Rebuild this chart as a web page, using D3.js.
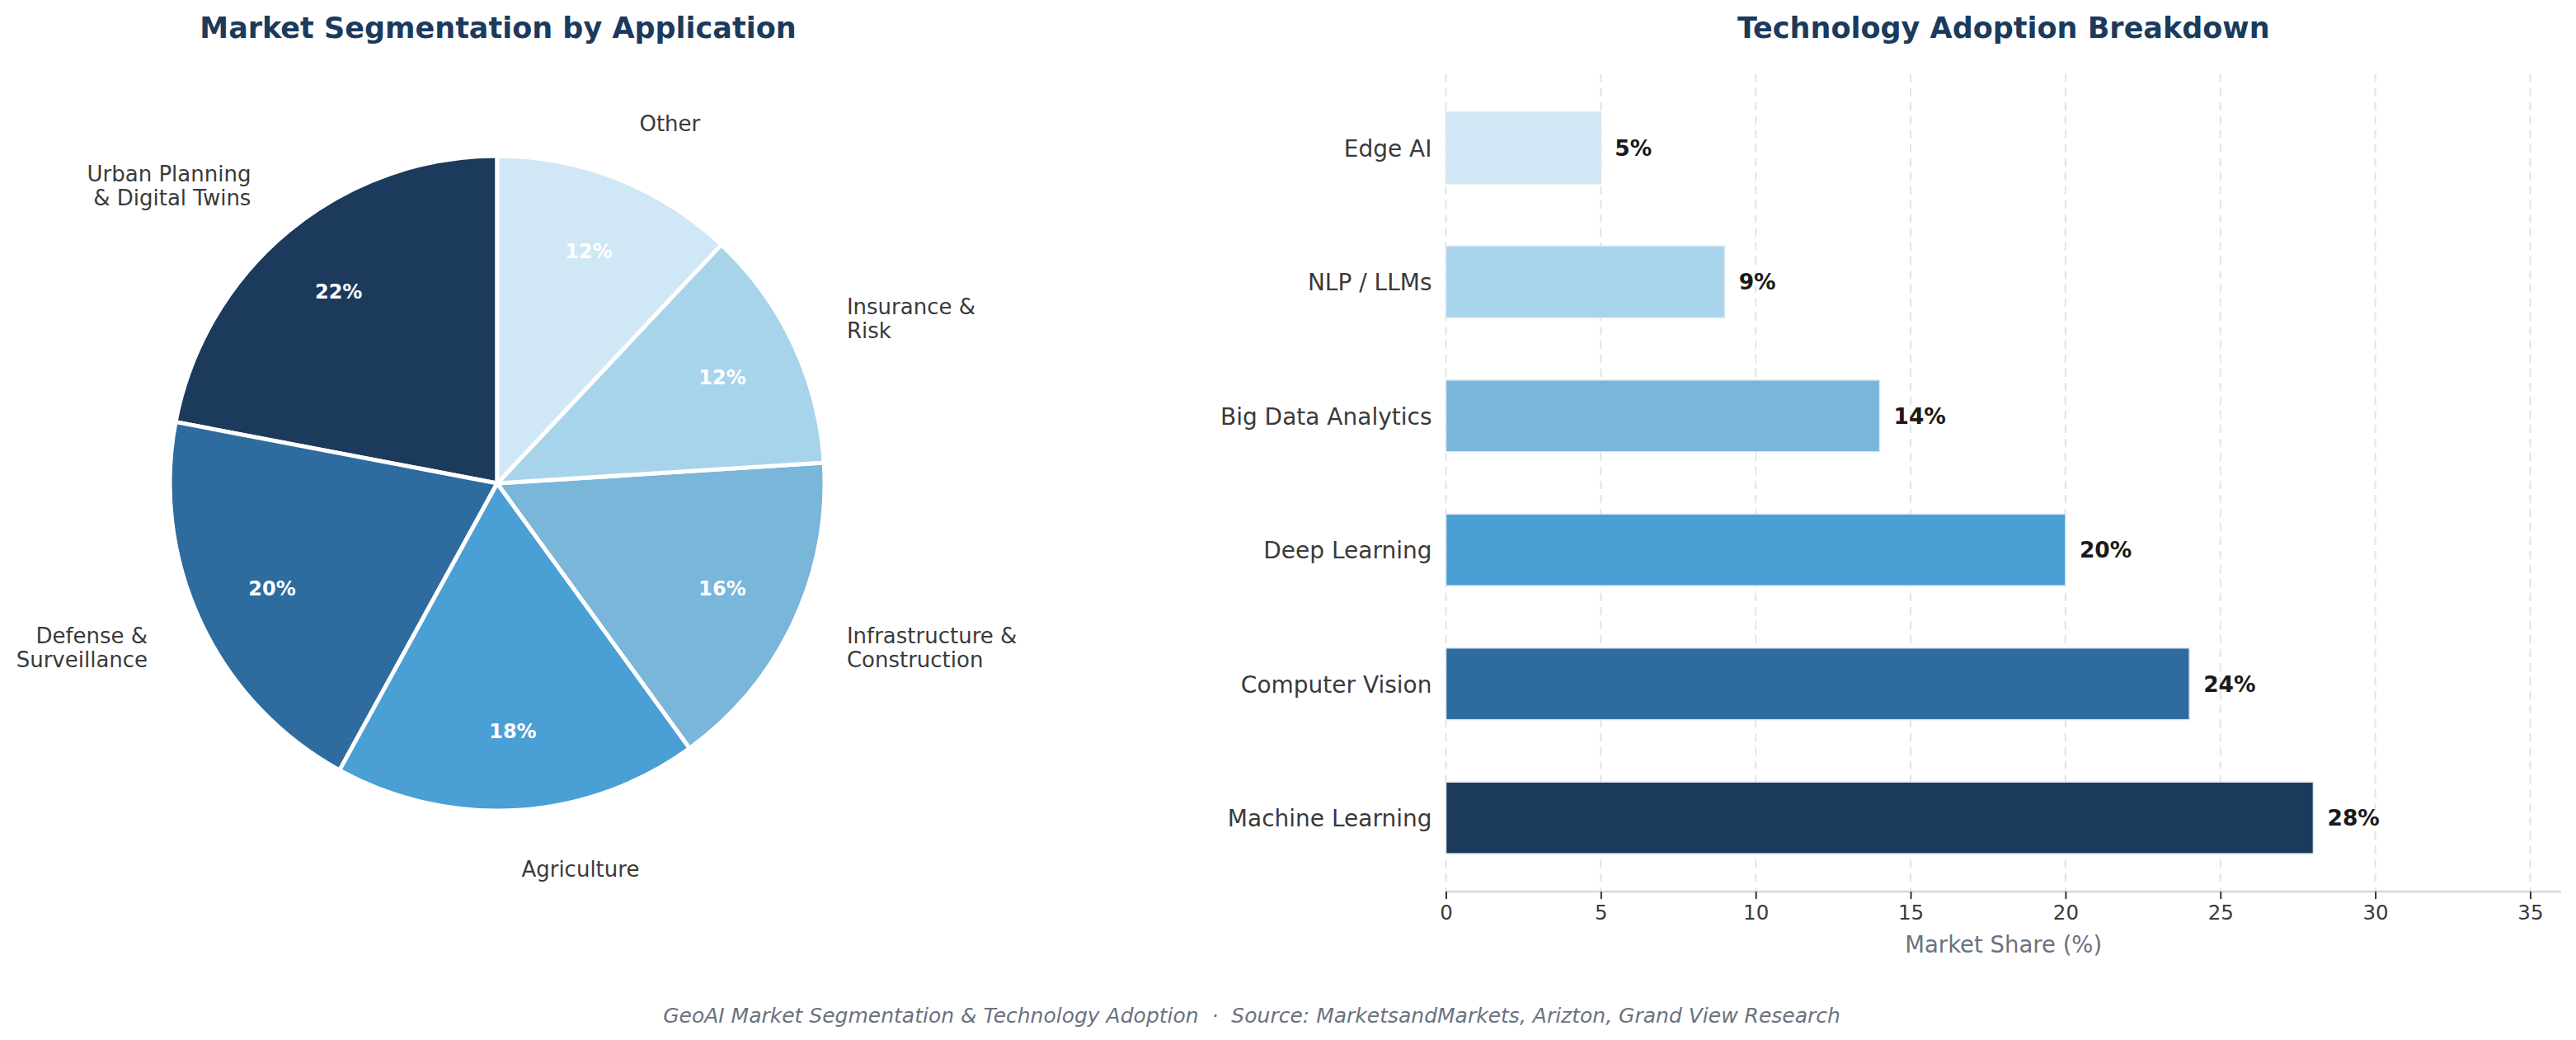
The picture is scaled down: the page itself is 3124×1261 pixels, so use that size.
<!DOCTYPE html>
<html>
<head>
<meta charset="utf-8">
<script src="https://cdn.jsdelivr.net/npm/d3@7"></script>
<style>
  html, body { margin: 0; padding: 0; background: #ffffff; }
  svg { display: block; font-family: "DejaVu Sans", sans-serif; }
</style>
</head>
<body>
<svg id="chart" width="3124" height="1261"></svg>
<script>
// ---------- DATA ----------
const pieLabels = ["Urban Planning\n& Digital Twins", "Defense &\nSurveillance", "Agriculture", "Infrastructure &\nConstruction", "Insurance &\nRisk", "Other"];
const pieValues = [22, 20, 18, 16, 12, 12];
const pieColors = ["#1b3a5c", "#2e6b9e", "#4a9fd4", "#7ab6d9", "#a8d4eb", "#d0e7f5"];

const techCategories = ["Machine Learning", "Computer Vision", "Deep Learning", "Big Data Analytics", "NLP / LLMs", "Edge AI"];
const techValues = [28, 24, 20, 14, 9, 5];
const techColors = ["#1b3a5c", "#2e6b9e", "#4a9fd4", "#7ab6d9", "#a8d4eb", "#d0e7f5"];
const xTickValues = [0, 5, 10, 15, 20, 25, 30, 35];

const pieTitle = "Market Segmentation by Application";
const barTitle = "Technology Adoption Breakdown";
const xAxisLabel = "Market Share (%)";
const footerText = "GeoAI Market Segmentation & Technology Adoption  \u00b7  Source: MarketsandMarkets, Arizton, Grand View Research";

// ---------- SETUP ----------
const svg = d3.select("#chart");
svg.append("rect").attr("width", 3124).attr("height", 1261).attr("fill", "#ffffff");

const titleColor = "#1b3a5c";

// ---------- PIE ----------
const cx = 603, cy = 586, R = 397;
const pieG = svg.append("g").attr("transform", `translate(${cx},${cy})`);

const pie = d3.pie().sort(null).value(d => d).startAngle(0).endAngle(-2 * Math.PI);
const arcs = pie(pieValues);
const arc = d3.arc().innerRadius(0).outerRadius(R);

pieG.selectAll("path.slice").data(arcs).enter().append("path")
  .attr("class", "slice")
  .attr("d", arc)
  .attr("fill", (d, i) => pieColors[i])
  .attr("stroke", "#ffffff")
  .attr("stroke-width", 5)
  .attr("stroke-linejoin", "round");

const total = d3.sum(pieValues);
const pctR = R * 0.76;
const labR = R * 1.18;
arcs.forEach((d, i) => {
  const a = (d.startAngle + d.endAngle) / 2;
  const px = pctR * Math.sin(a), py = -pctR * Math.cos(a);
  pieG.append("text")
    .attr("x", px).attr("y", py)
    .attr("text-anchor", "middle")
    .attr("dominant-baseline", "central")
    .attr("fill", "#ffffff")
    .attr("font-weight", "bold")
    .attr("font-size", 24)
    .text(Math.round(d.value / total * 100) + "%");

  const lx = labR * Math.sin(a), ly = -labR * Math.cos(a);
  const lines = pieLabels[i].split("\n");
  const lh = 29;
  const t = pieG.append("text")
    .attr("text-anchor", lx >= 0 ? "start" : "end")
    .attr("fill", "#3a3a3a")
    .attr("font-size", 26);
  lines.forEach((ln, j) => {
    t.append("tspan")
      .attr("x", lx)
      .attr("y", ly + (j - (lines.length - 1) / 2) * lh)
      .attr("dominant-baseline", "central")
      .text(ln);
  });
});

svg.append("text")
  .attr("x", 604).attr("y", 46)
  .attr("text-anchor", "middle")
  .attr("font-size", 35).attr("font-weight", "bold")
  .attr("fill", titleColor)
  .text(pieTitle);

// ---------- BAR ----------
const xLeft = 1753.5, xMax = 36;
const x = d3.scaleLinear().domain([0, xMax]).range([xLeft, xLeft + xMax * 37.57]);
const y = d3.scaleLinear().domain([-0.55, 5.55]).range([1081, 90]);
const barH = (y(0) - y(0.535));

const barG = svg.append("g");

// grid
barG.selectAll("line.grid").data(xTickValues).enter().append("line")
  .attr("class", "grid")
  .attr("x1", d => x(d)).attr("x2", d => x(d))
  .attr("y1", y(5.55)).attr("y2", y(-0.55))
  .attr("stroke", "#e3e3e3")
  .attr("stroke-width", 2)
  .attr("stroke-dasharray", "10,7");

// bars
barG.selectAll("rect.bar").data(techValues).enter().append("rect")
  .attr("class", "bar")
  .attr("x", x(0))
  .attr("y", (d, i) => y(i) - barH / 2)
  .attr("width", d => x(d) - x(0))
  .attr("height", barH)
  .attr("fill", (d, i) => techColors[i])
  .attr("stroke", "#dfe9f2")
  .attr("stroke-width", 1.5);

// value labels
barG.selectAll("text.val").data(techValues).enter().append("text")
  .attr("class", "val")
  .attr("x", d => x(d) + 17)
  .attr("y", (d, i) => y(i))
  .attr("dominant-baseline", "central")
  .attr("font-size", 26.5).attr("font-weight", "bold")
  .attr("fill", "#1a1a1a")
  .text(d => d + "%");

// y axis labels
const yAxis = d3.axisLeft(y).tickValues(d3.range(techCategories.length))
  .tickFormat(i => techCategories[i]).tickSize(0).tickPadding(17);
const yG = svg.append("g").attr("transform", `translate(${x(0)},0)`).call(yAxis);
yG.select(".domain").remove();
yG.selectAll("text").attr("font-size", 28).attr("fill", "#3a3a3a")
  .attr("font-family", "DejaVu Sans, sans-serif").attr("dy", "0.36em");

// x axis
const xAxis = d3.axisBottom(x).tickValues(xTickValues).tickSize(9).tickPadding(8);
const xG = svg.append("g").attr("transform", `translate(0,${y(-0.55)})`).call(xAxis);
xG.select(".domain").attr("stroke", "#d9d9d9").attr("stroke-width", 2.5)
  .attr("d", `M${x(0)},0H${x(xMax)}`);
xG.selectAll(".tick line").attr("stroke", "#333333").attr("stroke-width", 2);
xG.selectAll(".tick text").attr("font-size", 24.5).attr("fill", "#3a3a3a")
  .attr("font-family", "DejaVu Sans, sans-serif");

svg.append("text")
  .attr("x", (x(0) + x(xMax)) / 2).attr("y", 1155)
  .attr("text-anchor", "middle")
  .attr("font-size", 27.5)
  .attr("fill", "#6b7280")
  .text(xAxisLabel);

svg.append("text")
  .attr("x", (x(0) + x(xMax)) / 2).attr("y", 46)
  .attr("text-anchor", "middle")
  .attr("font-size", 35).attr("font-weight", "bold")
  .attr("fill", titleColor)
  .text(barTitle);

// ---------- FOOTER ----------
svg.append("text")
  .attr("x", 1518).attr("y", 1240)
  .attr("text-anchor", "middle")
  .attr("font-size", 25).attr("font-style", "italic")
  .attr("fill", "#6b7280")
  .attr("xml:space", "preserve")
  .style("white-space", "pre")
  .text(footerText);
</script>
</body>
</html>
